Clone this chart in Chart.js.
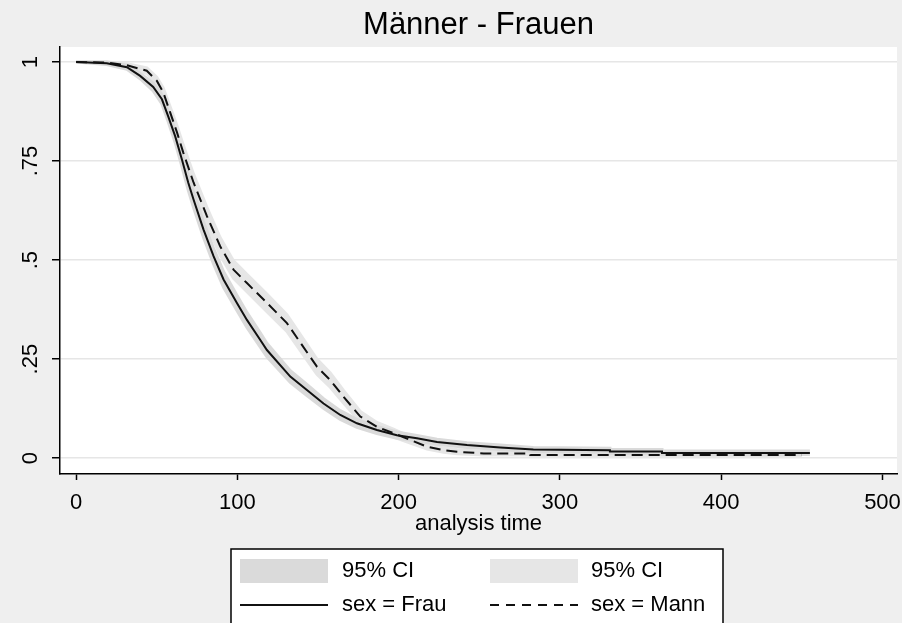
<!DOCTYPE html>
<html>
<head>
<meta charset="utf-8">
<title>Männer - Frauen</title>
<script src="https://cdn.jsdelivr.net/npm/chart.js@4.4.1/dist/chart.umd.min.js"></script>
<style>
  html, body { margin: 0; padding: 0; background: #efefef; }
  #wrap { width: 902px; height: 623px; }
</style>
</head>
<body>
<div id="wrap"><canvas id="km" width="902" height="623"></canvas></div>
<script>
// Kaplan-Meier
const frauTime = [0, 19, 31.5, 39.7, 47.8, 53.2, 57.1, 61.4, 65.6, 69.5, 72.8, 79, 85.2, 91.4, 99.7, 105.9, 114.1, 118.3, 132.8, 143.1, 153.4, 163.8, 174.1, 186.5, 198.9, 211.3, 223.8, 242.4, 263, 283.5, 331, 331, 363.3, 363.3, 455];
const frauSurv = [1, 0.997, 0.987, 0.965, 0.937, 0.906, 0.863, 0.813, 0.754, 0.696, 0.653, 0.577, 0.51, 0.451, 0.392, 0.349, 0.299, 0.273, 0.206, 0.172, 0.138, 0.109, 0.088, 0.071, 0.058, 0.05, 0.041, 0.033, 0.027, 0.022, 0.02, 0.017, 0.017, 0.013, 0.013];
const frauLo = [1, 0.994, 0.982, 0.958, 0.927, 0.894, 0.849, 0.797, 0.736, 0.677, 0.633, 0.557, 0.49, 0.431, 0.373, 0.33, 0.281, 0.256, 0.191, 0.158, 0.126, 0.098, 0.078, 0.062, 0.05, 0.043, 0.035, 0.027, 0.022, 0.017, 0.015, 0.012, 0.012, 0.009, 0.009];
const frauHi = [1, 1, 0.992, 0.972, 0.947, 0.918, 0.877, 0.829, 0.772, 0.715, 0.673, 0.597, 0.53, 0.471, 0.411, 0.368, 0.317, 0.29, 0.221, 0.186, 0.15, 0.12, 0.098, 0.08, 0.066, 0.057, 0.048, 0.039, 0.033, 0.027, 0.025, 0.022, 0.022, 0.018, 0.018];

const mannTime = [0, 19, 31.5, 43.8, 50, 54, 58.3, 62.5, 66.4, 72.8, 81.1, 89.3, 97.6, 105.9, 118.3, 130.7, 140, 149.3, 157.6, 165.8, 176.2, 186.5, 196.8, 207.2, 217.6, 227.9, 236.2, 252.7, 281.6, 281.6, 450];
const mannSurv = [1, 0.999, 0.992, 0.978, 0.953, 0.924, 0.873, 0.823, 0.772, 0.696, 0.611, 0.535, 0.476, 0.442, 0.392, 0.341, 0.286, 0.231, 0.197, 0.155, 0.105, 0.079, 0.063, 0.046, 0.029, 0.02, 0.016, 0.012, 0.012, 0.008, 0.008];
const mannLo = [1, 0.997, 0.988, 0.971, 0.944, 0.913, 0.859, 0.806, 0.753, 0.675, 0.589, 0.513, 0.454, 0.42, 0.37, 0.32, 0.266, 0.212, 0.179, 0.139, 0.092, 0.068, 0.053, 0.038, 0.023, 0.015, 0.011, 0.008, 0.008, 0.005, 0.005];
const mannHi = [1, 1, 0.996, 0.985, 0.962, 0.935, 0.887, 0.84, 0.791, 0.717, 0.633, 0.557, 0.498, 0.464, 0.414, 0.362, 0.306, 0.25, 0.215, 0.171, 0.118, 0.09, 0.073, 0.054, 0.036, 0.026, 0.022, 0.017, 0.017, 0.012, 0.012];

const xTicks = [0, 100, 200, 300, 400, 500];
const yTicks = [0, 0.25, 0.5, 0.75, 1];
const yLabels = ["0", ".25", ".5", ".75", "1"];

const FONT = "'Liberation Sans', Arial, sans-serif";
const bandFrau = "#dadada";
const bandMann = "#e6e6e6";

const pts = (xs, ys) => xs.map((x, i) => ({ x: x, y: ys[i] }));

// 游댳 Stata-like frame, title, y labels and legend
const stataLook = {
  id: "stataLook",
  beforeDraw(chart) {
    const { ctx, chartArea: a } = chart;
    ctx.save();
    ctx.fillStyle = "#efefef";
    ctx.fillRect(0, 0, chart.width, chart.height);
    ctx.fillStyle = "#ffffff";
    ctx.fillRect(a.left, a.top, a.right - a.left, a.bottom - a.top);
    ctx.restore();
  },
  afterDraw(chart) {
    const { ctx, chartArea: a } = chart;
    const yScale = chart.scales.y;
    ctx.save();
    ctx.fillStyle = "#000";

    // title
    ctx.font = "31px " + FONT;
    ctx.textAlign = "center";
    ctx.textBaseline = "middle";
    ctx.fillText("Männer - Frauen", (a.left + a.right) / 2, 25);

    // y tick labels, rotated
    ctx.font = "22px " + FONT;
    yTicks.forEach((v, i) => {
      ctx.save();
      ctx.translate(31, yScale.getPixelForValue(v));
      ctx.rotate(-Math.PI / 2);
      ctx.fillText(yLabels[i], 0, 0);
      ctx.restore();
    });

    // legend box
    ctx.fillStyle = "#fff";
    ctx.fillRect(231, 549, 492, 90);
    ctx.strokeStyle = "#000";
    ctx.lineWidth = 1.5;
    ctx.strokeRect(231, 549, 492, 90);

    ctx.fillStyle = bandFrau;
    ctx.fillRect(240, 559, 88, 24);
    ctx.fillStyle = bandMann;
    ctx.fillRect(490, 559, 88, 24);

    ctx.strokeStyle = "#111";
    ctx.lineWidth = 1.8;
    ctx.beginPath();
    ctx.moveTo(240, 605);
    ctx.lineTo(328, 605);
    ctx.stroke();
    ctx.setLineDash([9, 7]);
    ctx.beginPath();
    ctx.moveTo(490, 605);
    ctx.lineTo(578, 605);
    ctx.stroke();
    ctx.setLineDash([]);

    ctx.fillStyle = "#000";
    ctx.textAlign = "left";
    ctx.fillText("95% CI", 342, 571);
    ctx.fillText("95% CI", 591, 571);
    ctx.fillText("sex = Frau", 342, 605);
    ctx.fillText("sex = Mann", 591, 605);
    ctx.restore();
  },
};

new Chart(document.getElementById("km"), {
  type: "line",
  data: {
    datasets: [
      { label: "sex = Frau", data: pts(frauTime, frauSurv), borderColor: "#111", borderWidth: 2, pointRadius: 0, fill: false },
      { label: "sex = Mann", data: pts(mannTime, mannSurv), borderColor: "#111", borderWidth: 2, borderDash: [11, 6], pointRadius: 0, fill: false },
      { label: "lo Frau", data: pts(frauTime, frauLo), borderColor: bandFrau, borderWidth: 3, pointRadius: 0, fill: false },
      { label: "95% CI", data: pts(frauTime, frauHi), borderColor: bandFrau, borderWidth: 3, pointRadius: 0, backgroundColor: bandFrau, fill: "-1" },
      { label: "lo Mann", data: pts(mannTime, mannLo), borderColor: bandMann, borderWidth: 3, pointRadius: 0, fill: false },
      { label: "95% CI", data: pts(mannTime, mannHi), borderColor: bandMann, borderWidth: 3, pointRadius: 0, backgroundColor: bandMann, fill: "-1" },
    ],
  },
  options: {
    responsive: false,
    animation: false,
    events: [],
    layout: { padding: { top: 47, right: 5, bottom: 86, left: 0 } },
    plugins: { legend: { display: false }, title: { display: false }, tooltip: { enabled: false } },
    scales: {
      x: {
        type: "linear",
        min: -10,
        max: 509,
        afterBuildTicks: (s) => { s.ticks = xTicks.map((v) => ({ value: v })); },
        afterFit: (s) => { s.height = 63; s.paddingLeft = 0; s.paddingRight = 0; },
        grid: { drawOnChartArea: false, drawTicks: true, tickLength: 6, tickColor: "#000", tickWidth: 1.5 },
        border: { display: true, color: "#000", width: 1.5 },
        ticks: { color: "#000", font: { family: FONT, size: 22 }, padding: 10, maxRotation: 0 },
        title: { display: true, text: "analysis time", color: "#000", font: { family: FONT, size: 22 }, padding: 0 },
      },
      y: {
        type: "linear",
        min: -0.04,
        max: 1.038,
        afterBuildTicks: (s) => { s.ticks = yTicks.map((v) => ({ value: v })); },
        afterFit: (s) => { s.width = 60; },
        grid: { color: "#e6e6e6", lineWidth: 1.5, drawTicks: true, tickLength: 8, tickColor: "#000", tickWidth: 1.5 },
        border: { display: true, color: "#000", width: 1.5 },
        ticks: { display: false },
      },
    },
  },
  plugins: [stataLook],
});
</script>
</body>
</html>
